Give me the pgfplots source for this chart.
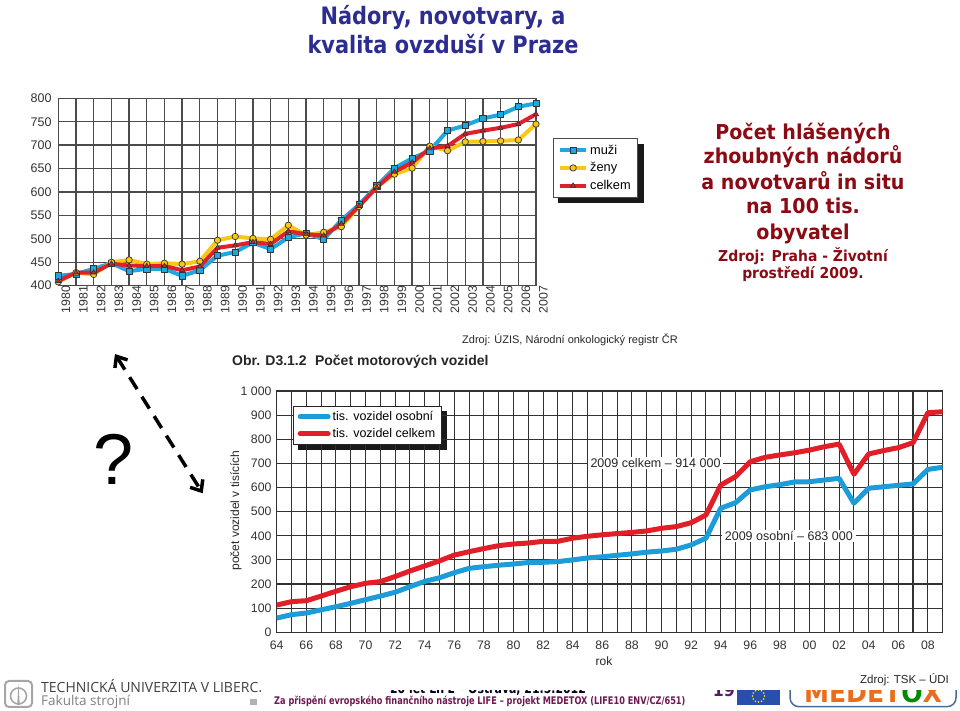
\documentclass[border=0pt]{standalone}
\usepackage{fontspec}
\setmainfont{Liberation Sans}
\newfontfamily\titlefont[FakeStretch=0.87]{DejaVu Sans}
\newfontfamily\redfont[FakeStretch=0.93]{DejaVu Sans}
\newfontfamily\footfont[FakeStretch=0.78]{DejaVu Sans}
\newfontfamily\tulfont{Open Sans}
\usepackage{pgfplots}
\pgfplotsset{compat=1.18}
\usetikzlibrary{arrows.meta,backgrounds}

\definecolor{cblue}{RGB}{30,168,224}
\definecolor{cyellow}{RGB}{248,200,20}
\definecolor{cred}{RGB}{224,32,42}
\definecolor{vblue}{RGB}{28,156,216}
\definecolor{vred}{RGB}{226,30,40}
\definecolor{gridc}{RGB}{75,75,75}
\definecolor{gridb}{RGB}{50,50,50}
\definecolor{titleblue}{RGB}{45,45,145}
\definecolor{darkred}{RGB}{139,10,20}
\definecolor{footpurple}{RGB}{110,25,80}
\definecolor{pagepurple}{RGB}{85,30,100}
\definecolor{eublue}{RGB}{40,80,170}
\definecolor{medorange}{RGB}{232,110,30}
\definecolor{medframe}{RGB}{70,110,150}

% pocet zhoubnych nadoru na 100 tis. obyvatel
\pgfplotstableread{
year muzi zeny celkem
1980 421 408 410
1981 425 428 428
1982 436 424 428
1983 448 450 447
1984 431 455 443
1985 436 446 442
1986 436 448 442
1987 421 446 433
1988 433 452 441
1989 464 497 481
1990 472 505 486
1991 492 501 493
1992 478 499 489
1993 503 529 516
1994 512 508 510
1995 499 514 507
1996 540 526 532
1997 573 569 570
1998 613 611 610
1999 651 638 643
2000 672 651 663
2001 688 698 693
2002 731 688 698
2003 742 707 724
2004 757 708 731
2005 765 709 737
2006 782 711 745
2007 789 745 766
}\nadory

% pocet motorovych vozidel (tis.)
\pgfplotstableread{
year osobni celkem
1964 59 113
1965 73 127
1966 80 131
1967 93 150
1968 106 170
1969 120 189
1970 135 203
1971 150 210
1972 166 231
1973 189 254
1974 211 275
1975 226 296
1976 247 320
1977 265 334
1978 272 347
1979 278 359
1980 283 366
1981 289 370
1982 290 377
1983 293 377
1984 300 390
1985 308 398
1986 313 404
1987 319 409
1988 325 414
1989 332 420
1990 337 431
1991 344 438
1992 362 454
1993 390 486
1994 514 610
1995 537 645
1996 590 707
1997 603 725
1998 612 735
1999 623 744
2000 624 755
2001 631 769
2002 638 780
2003 535 655
2004 597 739
2005 603 753
2006 609 765
2007 615 786
2008 675 910
2009 684 914
}\vozidla

\begin{document}
\begin{tikzpicture}[x=1pt,y=1pt]
\path[use as bounding box] (0,0) rectangle (960,711);

% ---- paticka
\draw[gray!70, line width=2pt, rounded corners=4pt] (5,4) rectangle (32,30);
\draw[gray!70, line width=1.6pt] (18.5,15) circle (8);
\fill[gray!70] (17.2,6) -- (18.5,27) -- (19.8,6) -- cycle;
\node[anchor=base west, inner sep=0pt, font=\tulfont\fontsize{14}{14}\selectfont, text=black!75] at (41,18.3) {TECHNICKÁ UNIVERZITA V LIBERCI};
\node[anchor=base west, inner sep=0pt, font=\tulfont\fontsize{13.5}{14}\selectfont, text=black!50] at (41,5) {Fakulta strojní};
\node[anchor=base, inner sep=0pt, font=\footfont\bfseries\fontsize{14}{14}\selectfont, text=black!85!blue] at (488,17) {20 let LIFE – Ostrava, 21.5.2012};
\fill[gray!60] (250,6) rectangle (257,12);
\node[anchor=base west, inner sep=0pt, font=\footfont\bfseries\fontsize{10.5}{11}\selectfont, text=footpurple] at (274,6) {Za přispění evropského finančního nástroje LIFE – projekt MEDETOX (LIFE10 ENV/CZ/651)};
\node[anchor=base west, inner sep=0pt, font=\redfont\bfseries\fontsize{17}{17}\selectfont, text=pagepurple] at (712.7,14) {19};
\fill[eublue] (737,6) rectangle (780,27);
\foreach \a in {0,30,...,330} \fill[yellow] (758.5,15) ++(\a:6) circle (0.9);
\draw[medframe, line width=1.5pt, rounded corners=9pt] (790,4.3) rectangle (956,45);
\node[anchor=base, inner sep=0pt, font=\redfont\bfseries\fontsize{27}{20}\selectfont] at (873,8.3) {\textcolor{medorange}{MEDET}\textcolor{green!55!black}{O}\textcolor{medorange}{X}};
\fill[white] (258,21) rectangle (960,70);

% ---- nadpisy
\node[anchor=base, inner sep=0pt, font=\titlefont\bfseries\fontsize{24}{24}\selectfont, text=titleblue] at (443,686) {Nádory, novotvary, a};
\node[anchor=base, inner sep=0pt, font=\titlefont\bfseries\fontsize{24}{24}\selectfont, text=titleblue] at (443,657.7) {kvalita ovzduší v Praze};

\begin{scope}[every node/.style={anchor=base, inner sep=0pt, text=darkred}]
\node[font=\redfont\bfseries\fontsize{20.5}{20}\selectfont] at (803,571.7) {Počet hlášených};
\node[font=\redfont\bfseries\fontsize{20.5}{20}\selectfont] at (803,547) {zhoubných nádorů};
\node[font=\redfont\bfseries\fontsize{20.5}{20}\selectfont] at (803,521) {a novotvarů in situ};
\node[font=\redfont\bfseries\fontsize{20.5}{20}\selectfont] at (803,497) {na 100 tis.};
\node[font=\redfont\bfseries\fontsize{20.5}{20}\selectfont] at (803,471) {obyvatel};
\node[font=\redfont\bfseries\fontsize{15}{15}\selectfont] at (803,449.3) {Zdroj: Praha - Životní};
\node[font=\redfont\bfseries\fontsize{15}{15}\selectfont] at (803,432.7) {prostředí 2009.};
\end{scope}

% ---- otaznik a sipka
\node[font=\fontsize{72}{72}\selectfont, inner sep=0pt] at (114,252) {?};
\draw[line width=3.5pt, dash pattern=on 14pt off 9pt, {Straight Barb[length=9pt,width=15pt]}-{Straight Barb[length=9pt,width=15pt]}] (115,357) -- (202.7,217.7);

% ---- graf 1: nadory
\begin{axis}[
  at={(58.3pt,425.3pt)}, anchor=south west,
  width=477.7pt, height=187.4pt, scale only axis,
  xmin=1980, xmax=2007, ymin=400, ymax=800,
  xtick={1980,...,2007}, ytick={400,450,...,800},
  grid=major,
  grid style={gridc, line width=1.3pt},
  axis line style={gridc, line width=1.3pt},
  major tick length=0pt,
  xticklabel={\pgfmathprintnumber[1000 sep={},assume math mode=true]{\tick}},
  yticklabel={\pgfmathprintnumber[1000 sep={},assume math mode=true]{\tick}},
  xticklabel style={rotate=90, anchor=east, inner sep=0pt, yshift=-7.5pt, font=\fontsize{12.3}{12}\selectfont, text=black!80},
  yticklabel style={anchor=east, inner sep=0pt, xshift=-6.5pt, font=\fontsize{12.5}{12}\selectfont, text=black!80},
  legend style={name=legA, at={(1.035,0.7866)}, anchor=north west, draw=gridc, line width=0.8pt, fill=white,
    font=\fontsize{12.8}{13}\selectfont, inner xsep=5pt, inner ysep=4pt, row sep=3pt},
  legend cell align=left,
  legend image code/.code={\draw[mark repeat=2,mark phase=2,#1] plot coordinates {(0pt,0pt) (13pt,0pt) (26pt,0pt)};},
]
\addplot[cblue, line width=4pt, line join=round, mark=square*, mark size=3.1pt,
  mark options={solid, fill=cblue, draw=black!80, line width=0.7pt}] table[x=year, y=muzi] {\nadory};
\addlegendentry{muži}
\addplot[cyellow, line width=4pt, line join=round, mark=*, mark size=3.2pt,
  mark options={solid, fill=cyellow, draw=black!80, line width=0.7pt}] table[x=year, y=zeny] {\nadory};
\addlegendentry{ženy}
\addplot[cred, line width=4pt, line join=round, mark=triangle*, mark size=2.9pt,
  mark options={solid, fill=cred, draw=black!80, line width=0.7pt}] table[x=year, y=celkem] {\nadory};
\addlegendentry{celkem}
\end{axis}

\node[anchor=east, inner sep=0pt, font=\fontsize{11}{11}\selectfont, text=black!85] at (678,371) {Zdroj: ÚZIS, Národní onkologický registr ČR};
\node[anchor=west, inner sep=0pt, font=\bfseries\fontsize{14}{14}\selectfont, text=black!85] at (232,349) {Obr. D3.1.2\hspace{0.6em}Počet motorových vozidel};

% ---- graf 2: vozidla
\begin{axis}[
  at={(276.7pt,78.7pt)}, anchor=south west,
  width=666pt, height=241.3pt, scale only axis,
  xmin=1964, xmax=2009, ymin=0, ymax=1000,
  xtick={1964,1966,...,2008},
  xticklabels={64,66,68,70,72,74,76,78,80,82,84,86,88,90,92,94,96,98,00,02,04,06,08},
  minor xtick={1964,...,2009},
  ytick={0,100,...,1000},
  yticklabels={0,100,200,300,400,500,600,700,800,900,1~000},
  grid=both,
  major grid style={gridb, line width=1.1pt},
  minor grid style={gridb, line width=1.1pt},
  axis line style={gridb, line width=1.1pt},
  major tick length=0pt, minor tick length=0pt,
  xticklabel style={anchor=north, inner sep=0pt, yshift=-8.5pt, font=\fontsize{12.3}{12}\selectfont, text=black!80},
  yticklabel style={anchor=east, inner sep=0pt, xshift=-5pt, font=\fontsize{12.3}{12}\selectfont, text=black!80},
  legend style={name=legB, at={(0.0249,0.9378)}, anchor=north west, draw=black!85, line width=0.8pt, fill=white,
    font=\fontsize{12.5}{13}\selectfont, inner xsep=4pt, inner ysep=3pt, row sep=2.5pt},
  legend cell align=left,
  legend image code/.code={\draw[#1, line cap=round] (0pt,0pt) -- (28pt,0pt);},
]
\addplot[vblue, line width=5pt, line join=round] table[x=year, y=osobni] {\vozidla};
\addlegendentry{tis. vozidel osobní}
\addplot[vred, line width=5pt, line join=round] table[x=year, y=celkem] {\vozidla};
\addlegendentry{tis. vozidel celkem}
\end{axis}

% stiny legend
\begin{scope}[on background layer]
\fill[black!90] ([shift={(5.5pt,-5.5pt)}]legA.south west) rectangle ([shift={(5.5pt,-5.5pt)}]legA.north east);
\fill[black!90] ([shift={(5pt,-5pt)}]legB.south west) rectangle ([shift={(5pt,-5pt)}]legB.north east);
\end{scope}

\node[fill=white, inner xsep=3pt, inner ysep=1.5pt, font=\fontsize{12.5}{12}\selectfont, text=black!85] at (655.5,247.6) {2009 celkem – 914 000};
\node[fill=white, inner xsep=3pt, inner ysep=1.5pt, font=\fontsize{12.5}{12}\selectfont, text=black!85] at (788.8,175.2) {2009 osobní – 683 000};
\node[rotate=90, inner sep=0pt, font=\fontsize{12}{12}\selectfont, text=black!85] at (236,200.5) {počet vozidel v tisících};
\node[inner sep=0pt, font=\fontsize{12}{12}\selectfont, text=black!85] at (604,50) {rok};
\node[anchor=east, inner sep=0pt, font=\fontsize{11.5}{11}\selectfont, text=black!85] at (949,31) {Zdroj: TSK – ÚDI};
\end{tikzpicture}
\end{document}
